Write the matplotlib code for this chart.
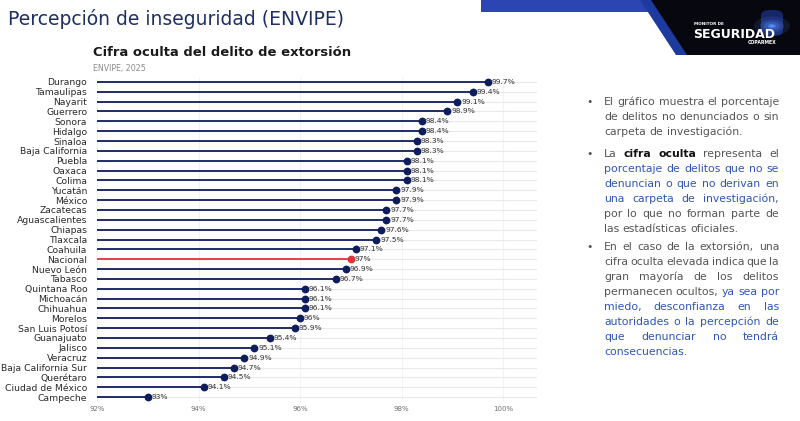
import matplotlib
matplotlib.use("Agg")
import matplotlib.pyplot as plt
from matplotlib.patches import Polygon, Rectangle, Circle, FancyBboxPatch

states = ["Durango", "Tamaulipas", "Nayarit", "Guerrero", "Sonora", "Hidalgo",
          "Sinaloa", "Baja California", "Puebla", "Oaxaca", "Colima", "Yucatán",
          "México", "Zacatecas", "Aguascalientes", "Chiapas", "Tlaxcala", "Coahuila",
          "Nacional", "Nuevo León", "Tabasco", "Quintana Roo", "Michoacán",
          "Chihuahua", "Morelos", "San Luis Potosí", "Guanajuato", "Jalisco",
          "Veracruz", "Baja California Sur", "Querétaro", "Ciudad de México", "Campeche"]
values = [99.7, 99.4, 99.1, 98.9, 98.4, 98.4, 98.3, 98.3, 98.1, 98.1, 98.1, 97.9,
          97.9, 97.7, 97.7, 97.6, 97.5, 97.1, 97.0, 96.9, 96.7, 96.1, 96.1, 96.1,
          96.0, 95.9, 95.4, 95.1, 94.9, 94.7, 94.5, 94.1, 93.0]
value_labels = ["99.7%", "99.4%", "99.1%", "98.9%", "98.4%", "98.4%", "98.3%", "98.3%",
                "98.1%", "98.1%", "98.1%", "97.9%", "97.9%", "97.7%", "97.7%", "97.6%",
                "97.5%", "97.1%", "97%", "96.9%", "96.7%", "96.1%", "96.1%", "96.1%",
                "96%", "95.9%", "95.4%", "95.1%", "94.9%", "94.7%", "94.5%", "94.1%", "93%"]
xticks = [92, 94, 96, 98, 100]
xtick_labels = ["92%", "94%", "96%", "98%", "100%"]

W, H = 800, 421
NAVY = "#0f1d5c"
RED = "#e0323c"
DJ = ["DejaVu Sans"]

fig = plt.figure(figsize=(W / 100, H / 100), dpi=100)
fig.patch.set_facecolor("white")
renderer = fig.canvas.get_renderer()

def px(x, y):
    return x / W, 1 - y / H

def text_w(s, fs, family=DJ, **st):
    t = fig.text(0, 0, s, fontsize=fs, family=family, **st)
    w = t.get_window_extent(renderer).width
    t.remove()
    return w

def fit_size(s, target, family=DJ, **st):
    return 10 * target / text_w(s, 10, family, **st)

# ---------- chart ----------
ax_l, ax_r, ax_t, ax_b = 97, 537, 77, 402
ax = fig.add_axes([ax_l / W, 1 - ax_b / H, (ax_r - ax_l) / W, (ax_b - ax_t) / H])
n = len(states)
ax.set_xlim(92, 92 + (ax_r - ax_l) / 50.75)
ax.set_ylim(n - 0.5, -0.5)
for s in ax.spines.values():
    s.set_visible(False)
ax.set_xticks(xticks)
ax.set_xticklabels(xtick_labels, fontsize=5.0, color="#707070", family=DJ)
ax.tick_params(axis="x", length=0, pad=3)
ax.set_yticks(range(n))
lab_fs = fit_size("Baja California Sur", 86)
ax.set_yticklabels(states, fontsize=lab_fs, color="#2a2a2a", family=DJ)
ax.tick_params(axis="y", length=0, pad=7)
ax.grid(axis="x", color="#f2f2f2", linewidth=0.8)
ax.grid(axis="y", color="#e9e9e9", linewidth=0.8)
ax.set_axisbelow(True)

for i, (v, lab) in enumerate(zip(values, value_labels)):
    c = RED if states[i] == "Nacional" else NAVY
    ax.hlines(i, 92, v, color=c, linewidth=1.3, zorder=3)
    ax.plot(v, i, "o", color=c, markersize=4.6, zorder=4)
    ax.annotate(lab, (v, i), xytext=(2.8, 0), textcoords="offset points",
                va="center", ha="left", fontsize=5.4, color="#303030", family=DJ)

# ---------- titles ----------
ttl = "Percepción de inseguridad (ENVIPE)"
fig.text(*px(8, 19), ttl, fontsize=fit_size(ttl, 335),
         color="#1e2f63", va="center", ha="left", family=DJ)
sub = "Cifra oculta del delito de extorsión"
fig.text(*px(93, 53), sub, fontsize=fit_size(sub, 257, fontweight="bold"),
         fontweight="bold", color="#1a1a1a", va="center", ha="left", family=DJ)
fig.text(*px(93, 68), "ENVIPE, 2025", fontsize=fit_size("ENVIPE, 2025", 53),
         color="#8a8a8a", va="center", ha="left", family=DJ)

# ---------- banner ----------
fig.patches.append(Rectangle(px(481, 12), 175 / W, 12 / H, transform=fig.transFigure,
                             facecolor="#2b46b3", edgecolor="none", zorder=1))
dark = [px(650, 0), px(800, 0), px(800, 55), px(686, 55)]
fig.patches.append(Polygon(dark, closed=True, transform=fig.transFigure,
                           facecolor="#07080f", edgecolor="none", zorder=2))
stripe = [px(640, 0), px(651, 0), px(687, 55), px(676, 55)]
fig.patches.append(Polygon(stripe, closed=True, transform=fig.transFigure,
                           facecolor="#1d3a9e", edgecolor="none", zorder=3))
fig.patches.append(FancyBboxPatch(px(761, 36), 22 / W, 26 / H,
                                  boxstyle="round,pad=0,rounding_size=0.012",
                                  transform=fig.transFigure, facecolor="#1b2f80",
                                  edgecolor="none", alpha=0.8, zorder=4))
for r, a in [(18, 0.12), (12, 0.2), (8, 0.3), (4, 0.6), (2, 0.95)]:
    fig.patches.append(Circle(px(772, 26), r / W, transform=fig.transFigure,
                              facecolor="#5a8cff", edgecolor="none", alpha=a, zorder=5))
fig.text(*px(694, 24), "MONITOR DE", fontsize=fit_size("MONITOR DE", 30, fontweight="bold"),
         fontweight="bold", color="white", va="center", ha="left", family=DJ, zorder=6)
fig.text(*px(693, 34), "SEGURIDAD", fontsize=fit_size("SEGURIDAD", 83, fontweight="heavy"),
         fontweight="heavy", color="white", va="center", ha="left", family=DJ, zorder=6)
fig.text(*px(777, 43), "COPARMEX", fontsize=fit_size("COPARMEX", 29, fontweight="bold"),
         fontweight="bold", color="white", va="center", ha="right", family=DJ, zorder=6)

# ---------- right-side bullet text ----------
NORMAL = dict(color="#555555", fontweight="normal")
BOLD = dict(color="#111111", fontweight="bold")
HIGH = dict(color="#2f55b5", fontweight="normal")
styles = {"n": NORMAL, "b": BOLD, "h": HIGH}

paragraphs = [
    (102, [
        [("El gráfico muestra el porcentaje", "n")],
        [("de delitos no denunciados o sin", "n")],
        [("carpeta de investigación.", "n")],
    ]),
    (154, [
        [("La", "n"), ("cifra oculta", "b"), ("representa el", "n")],
        [("porcentaje de delitos que no se", "h")],
        [("denuncian o que no derivan en", "h")],
        [("una carpeta de investigación,", "h")],
        [("por lo que no forman parte de", "n")],
        [("las estadísticas oficiales.", "n")],
    ]),
    (247, [
        [("En el caso de la extorsión, una", "n")],
        [("cifra oculta elevada indica que la", "n")],
        [("gran mayoría de los delitos", "n")],
        [("permanecen ocultos,", "n"), ("ya sea por", "h")],
        [("miedo, desconfianza en las", "h")],
        [("autoridades o la percepción de", "h")],
        [("que denunciar no tendrá", "h")],
        [("consecuencias.", "h")],
    ]),
]

TX0, TX1, LH = 604, 779, 15.0
FS = fit_size("El gráfico muestra el porcentaje", TX1 - TX0 - 1)
MIN_GAP = 2.2
for y0, lines in paragraphs:
    fig.text(*px(586, y0), "•", fontsize=FS, color="#555555", va="center",
             ha="left", family=DJ)
    for li, segs in enumerate(lines):
        y = y0 + li * LH
        words = []
        for txt, sk in segs:
            for w in txt.split(" "):
                words.append((w, styles[sk]))
        fs = FS
        widths = [text_w(w, fs, **st) for w, st in words]
        last = li == len(lines) - 1
        if not last and len(words) > 1:
            need = sum(widths) + MIN_GAP * (len(words) - 1)
            if need > TX1 - TX0:
                fs = FS * (TX1 - TX0 - MIN_GAP * (len(words) - 1)) / sum(widths)
                widths = [text_w(w, fs, **st) for w, st in words]
            gap = (TX1 - TX0 - sum(widths)) / (len(words) - 1)
        else:
            gap = text_w("a a", fs) - text_w("aa", fs)
        x = TX0
        for (w, st), ww in zip(words, widths):
            fig.text(*px(x, y), w, fontsize=fs, family=DJ, va="center",
                     ha="left", **st)
            x += ww + gap

fig.savefig("out.png", dpi=100, facecolor="white")
